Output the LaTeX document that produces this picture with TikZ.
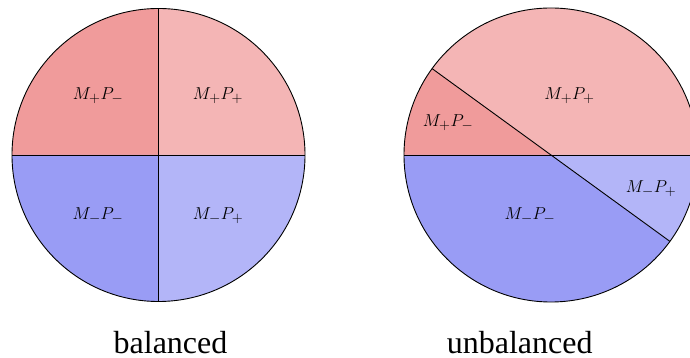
\documentclass[tikz,border=0pt]{standalone}
\usepackage{fontspec}
\setmainfont{Liberation Serif}
\usetikzlibrary{calc}
\definecolor{mpmcol}{RGB}{240,155,155}
\definecolor{mppcol}{RGB}{244,181,181}
\definecolor{mmmcol}{RGB}{153,156,245}
\definecolor{mmpcol}{RGB}{179,181,248}
\tikzset{
  outline/.style={draw=black, line width=0.9pt},
  seglabel/.style={anchor=base, inner sep=0pt, font=\fontsize{19}{22}\selectfont},
  caption/.style={anchor=base, inner sep=0pt, text depth=0pt, font=\fontsize{32}{36}\selectfont},
}
\begin{document}
\begin{tikzpicture}[x=1pt,y=1pt]
  \useasboundingbox (0,0) rectangle (690,358);
  \clip (0,0) rectangle (690,358);

  % balanced: four quarters
  \def\rl{146.5}
  \coordinate (cl) at (158.5,203);
  \fill[mpmcol] (cl) -- +(180:\rl) arc[start angle=180, end angle=90, radius=\rl] -- cycle;
  \fill[mppcol] (cl) -- +(90:\rl) arc[start angle=90, end angle=0, radius=\rl] -- cycle;
  \fill[mmmcol] (cl) -- +(180:\rl) arc[start angle=180, end angle=270, radius=\rl] -- cycle;
  \fill[mmpcol] (cl) -- +(270:\rl) arc[start angle=270, end angle=360, radius=\rl] -- cycle;
  \coordinate (lw) at ($(cl)+(180:\rl)$);
  \coordinate (le) at ($(cl)+(0:\rl)$);
  \coordinate (ln) at ($(cl)+(90:\rl)$);
  \coordinate (ls) at ($(cl)+(270:\rl)$);
  \draw[outline] (lw) -- (le);
  \draw[outline] (ln) -- (ls);
  \draw[outline] (cl) circle[radius=\rl];

  \node[seglabel] (l1) at (98,258) {$M_{+}P_{-}$};
  \node[seglabel] (l2) at (218,258) {$M_{+}P_{+}$};
  \node[seglabel] (l3) at (98,138) {$M_{-}P_{-}$};
  \node[seglabel] (l4) at (218,138) {$M_{-}P_{+}$};

  % unbalanced: the tilted diameter cuts uneven pieces
  \def\rr{147}
  \coordinate (cr) at (551,203);
  \fill[mpmcol] (cr) -- +(144:\rr) arc[start angle=144, end angle=180, radius=\rr] -- cycle;
  \fill[mppcol] (cr) -- +(0:\rr) arc[start angle=0, end angle=144, radius=\rr] -- cycle;
  \fill[mmmcol] (cr) -- +(180:\rr) arc[start angle=180, end angle=324, radius=\rr] -- cycle;
  \fill[mmpcol] (cr) -- +(324:\rr) arc[start angle=324, end angle=360, radius=\rr] -- cycle;
  \coordinate (rw) at ($(cr)+(180:\rr)$);
  \coordinate (re) at ($(cr)+(0:\rr)$);
  \coordinate (rnw) at ($(cr)+(144:\rr)$);
  \coordinate (rse) at ($(cr)+(324:\rr)$);
  \draw[outline] (rw) -- (re);
  \draw[outline] (rnw) -- (rse);
  \draw[outline] (cr) circle[radius=\rr];

  \node[seglabel] (r1) at (448,231) {$M_{+}P_{-}$};
  \node[seglabel] (r2) at (569.5,258) {$M_{+}P_{+}$};
  \node[seglabel] (r3) at (530,138) {$M_{-}P_{-}$};
  \node[seglabel] (r4) at (651,165) {$M_{-}P_{+}$};

  \node[caption] (capl) at (170.5,4) {balanced};
  \node[caption] (capr) at (519.7,4) {unbalanced};
\end{tikzpicture}
\end{document}
